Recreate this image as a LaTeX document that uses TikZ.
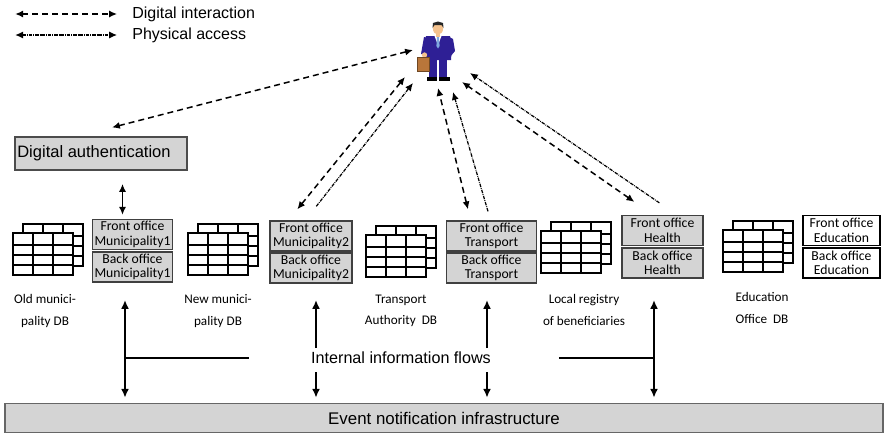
\documentclass[tikz,border=0pt]{standalone}
\usepackage{fontspec}
\setmainfont{Liberation Sans}
\newfontfamily\comicfont{Carlito}
\usetikzlibrary{arrows.meta}
\definecolor{boxgray}{HTML}{D4D4D4}
\definecolor{suitblue}{HTML}{2E1F95}
\definecolor{skin}{HTML}{F4C28E}
\definecolor{leather}{HTML}{B9763A}
\definecolor{tieblue}{HTML}{7FA8E0}

% stacked table icon, anchored at the top left of the front sheet
\tikzset{
  dbtable/.pic={
    \foreach \dx in {10,0}{
      \draw[fill=white, line width=0.6pt] (\dx,-0.9*\dx) rectangle +(60,42);
      \foreach \c in {20,40} \draw[line width=0.6pt] (\dx+\c,-0.9*\dx) -- +(0,42);
      \foreach \r in {12,22,32} \draw[line width=0.6pt] (\dx,-0.9*\dx+\r) -- +(60,0);
    }
  }
}

\begin{document}
\begin{tikzpicture}[
    x=0.02cm, y=-0.02cm,
    office/.style={rectangle, draw=black!75, fill=boxgray, line width=0.8pt, inner sep=0pt, minimum height=17pt, align=center, font=\comicfont\fontsize{7.8}{8.2}\selectfont},
    dblabel/.style={align=center, font=\comicfont\fontsize{7.5}{12}\selectfont},
    legend/.style={anchor=west, inner sep=0pt, font=\fontsize{9.1}{10}\selectfont},
    digital/.style={{Latex[length=4.5pt,width=4pt]}-{Latex[length=4.5pt,width=4pt]}, line width=0.85pt, dash pattern=on 3.4pt off 2.3pt},
    physical/.style={line width=0.7pt, dash pattern=on 2pt off 0.6pt on 0.4pt off 0.6pt},
    bus/.style={line width=1.2pt},
    bustip/.style={-{Latex[length=5pt,width=4.5pt]}},
  ]
  \useasboundingbox (0,0) rectangle (886,433);

  % legend
  \node[legend] (lgdig) at (132,14) {Digital interaction};
  \node[legend] (lgphy) at (132,35) {Physical access};
  \draw[digital] ([xshift=-66.5pt]lgdig.west) -- ([xshift=-8.5pt]lgdig.west);
  \draw[physical, {Latex[length=4.5pt,width=4pt]}-{Latex[length=4.5pt,width=4pt]}] ([xshift=-66.5pt]lgphy.west) -- ([xshift=-8.5pt]lgphy.west);

  % citizen
  \fill[suitblue] (429,57) rectangle (437,78);
  \fill[suitblue] (439,57) rectangle (447,78);
  \fill[black] (427,77) rectangle (437,80.5);
  \fill[black] (439,77) rectangle (450,80.5);
  \fill[suitblue] (426,36) -- (450,36) -- (452,46) -- (451,60) -- (425,60) -- (424,46) -- cycle;
  \fill[suitblue] (424,37) -- (429,38) -- (428,54) -- (421,54) -- cycle;
  \fill[suitblue] (449,37) -- (453,39) -- (455,51) -- (450,57) -- (447,53) -- cycle;
  \fill[white] (434.5,36) -- (441.5,36) -- (438,45) -- cycle;
  \fill[tieblue] (437,37) -- (439,37) -- (439.6,46) -- (438,48.5) -- (436.4,46) -- cycle;
  \fill[skin] (436,32) rectangle (440,37);
  \fill[skin] (438,28.5) ellipse [x radius=2.9pt, y radius=3.5pt];
  \fill[black!85] (432.5,28) -- (433,23) -- (438,21.5) -- (443,23) -- (443.5,28) -- (441.5,25) -- (434.5,25) -- cycle;
  \fill[skin] (424.5,55) circle (1.5pt);
  \fill[leather] (417,57) rectangle (429,71);
  \draw[leather!60!black, line width=0.5pt] (417,57) rectangle (429,71);

  \coordinate (pauth) at (413,50);
  \coordinate (pmun) at (405,77);
  \coordinate (pmunx) at (413,83);
  \coordinate (ptra) at (438,88);
  \coordinate (ptrax) at (453,92);
  \coordinate (phea) at (462,82);
  \coordinate (pheax) at (470,73);

  % authentication
  \node[rectangle, draw=black!70, fill=boxgray, line width=0.6pt, minimum width=97.9pt, minimum height=18.8pt, inner sep=0pt, font=\fontsize{9.4}{10}\selectfont] (auth) at (101,153.5) {\hspace*{-8pt}Digital authentication};

  % front and back offices
  \node[office, minimum width=45.5pt] (fo1) at (132.5,234.5) {Front office\\Municipality1};
  \node[office, minimum width=45.5pt] (bo1) at (132.5,267) {Back office\\Municipality1};
  \node[office, minimum width=46.7pt] (fo2) at (311,236) {Front office\\Municipality2};
  \node[office, minimum width=46.7pt] (bo2) at (311,268) {Back office\\Municipality2};
  \node[office, minimum width=51pt] (fot) at (491.5,236) {Front office\\Transport};
  \node[office, minimum width=51pt] (bot) at (491.5,268) {Back office\\Transport};
  \node[office, minimum width=46pt] (foh) at (662.5,230.5) {Front office\\Health};
  \node[office, minimum width=46pt] (boh) at (662.5,263) {Back office\\Health};
  \node[office, fill=white, draw=black, minimum width=43.8pt] (foe) at (841.5,230.5) {Front office\\Education};
  \node[office, fill=white, draw=black, minimum width=43.8pt] (boe) at (841.5,263) {Back office\\Education};

  % databases
  \pic at (13,233) {dbtable};
  \pic at (188,233) {dbtable};
  \pic at (366,235) {dbtable};
  \pic at (541,231) {dbtable};
  \pic at (723,230) {dbtable};
  \node[dblabel] (lold) at (45,311) {Old munici-\\pality DB};
  \node[dblabel] (lnew) at (218,311) {New munici-\\pality DB};
  \node[dblabel] (ltra) at (401,311) {Transport\\Authority\ \ DB};
  \node[dblabel] (lreg) at (584,310) {Local registry\\of beneficiaries};
  \node[dblabel] (ledu) at (762,308) {Education\\Office\ \ DB};

  % citizen interactions
  \draw[digital] ([shift={(11,-9)}]auth.north) -- (pauth);
  \draw[digital] ([shift={(28,-11)}]fo2.north west) -- (pmun);
  \draw[physical, -{Latex[length=4.5pt,width=4pt]}] ([shift={(47,-14)}]fo2.north west) -- (pmunx);
  \draw[digital] ([shift={(22,-11)}]fot.north west) -- (ptra);
  \draw[physical, -{Latex[length=4.5pt,width=4pt]}] ([shift={(42,-9)}]fot.north west) -- (ptrax);
  \draw[digital] ([shift={(13,-13)}]foh.north west) -- (phea);
  \draw[physical, -{Latex[length=4.5pt,width=4pt]}] ([shift={(38,-12)}]foh.north west) -- (pheax);
  \draw[bus, line width=0.9pt, {Latex[length=4.5pt,width=4pt]}-{Latex[length=4.5pt,width=4pt]}] ([shift={(-10,-4)}]fo1.north) -- ++(0,-31);

  % event bus
  \node[rectangle, draw=black!60, fill=boxgray, line width=0.6pt, minimum width=499.7pt, minimum height=16.5pt, inner sep=0pt, font=\fontsize{9.6}{10}\selectfont] (bar) at (444,418) {Event notification infrastructure};
  \node[inner sep=1pt, font=\fontsize{9.2}{10}\selectfont] (flows) at (401,358) {Internal information flows};

  \coordinate (ina) at (125,300);
  \coordinate (inb) at (316,300);
  \coordinate (inc) at (487,300);
  \coordinate (ind) at (654,300);
  \draw[bus, {Latex[length=5pt,width=4.5pt]}-{Latex[length=5pt,width=4.5pt]}, shorten >=3pt] (ina) -- (ina |- bar.north);
  \draw[bus, {Latex[length=5pt,width=4.5pt]}-{Latex[length=5pt,width=4.5pt]}, shorten >=3pt] (ind) -- (ind |- bar.north);
  \foreach \c in {inb,inc}{
    \draw[bus, bustip] (\c) ++(0,48) -- (\c);
    \draw[bus, bustip, shorten >=3pt] (\c |- flows.south) ++(0,6) -- (\c |- bar.north);
  }
  \draw[bus] (ina |- flows) -- ([xshift=-34pt]flows.west);
  \draw[bus] ([xshift=37.5pt]flows.east) -- (ind |- flows);
\end{tikzpicture}
\end{document}
